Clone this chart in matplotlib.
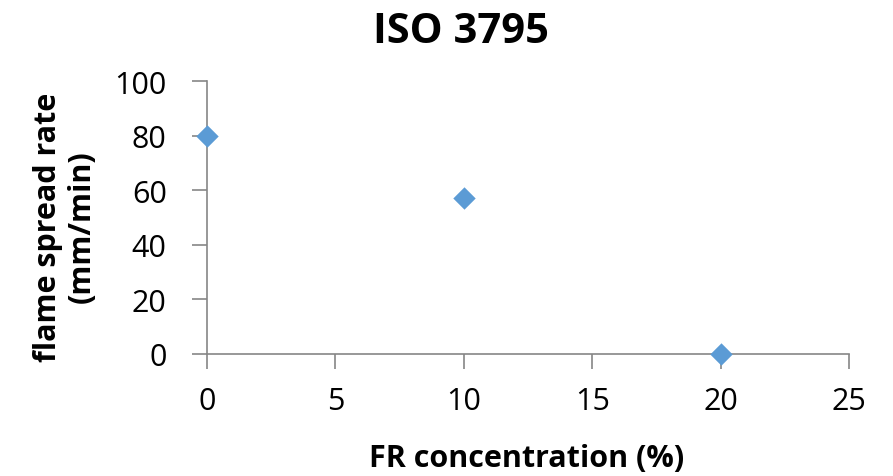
import matplotlib
matplotlib.use("Agg")
import matplotlib.pyplot as plt

conc = [0, 10, 20]
spread = [80, 57, 0]
xticks = [0, 5, 10, 15, 20, 25]
yticks = [0, 20, 40, 60, 80, 100]

plt.rcParams['font.family'] = ['Open Sans', 'DejaVu Sans']

W, H = 893, 477
fig = plt.figure(figsize=(W / 100, H / 100), dpi=100)
ax = fig.add_axes([207 / W, 1 - 355 / H, (849 - 207) / W, (355 - 82) / H])

ax.scatter(conc, spread, marker='D', s=130, color='#5B9BD5', zorder=3, clip_on=False, linewidths=0)

ax.set_xlim(0, 25)
ax.set_ylim(0, 100)
ax.set_xticks(xticks)
ax.set_yticks(yticks)
ax.tick_params(labelsize=22, length=11, width=1.2, color='#868686')
ax.tick_params(axis='x', pad=12)
ax.tick_params(axis='y', pad=18)
for s in ['top', 'right']:
    ax.spines[s].set_visible(False)
for s in ['left', 'bottom']:
    ax.spines[s].set_color('#868686')
    ax.spines[s].set_linewidth(1.2)

fig.text(461 / W, 1 - 43 / H, "ISO 3795", fontsize=30, fontweight='bold', ha='center', va='baseline')
fig.text(527 / W, 1 - 459 / H, "FR concentration (%)", fontsize=22, fontweight='bold', ha='center', va='center')
fig.text(65 / W, 1 - 227 / H, "flame spread rate\n(mm/min)", fontsize=22, fontweight='bold',
         ha='center', va='center', rotation=90, linespacing=1.15, multialignment='center')

fig.savefig("out.png", dpi=100)
